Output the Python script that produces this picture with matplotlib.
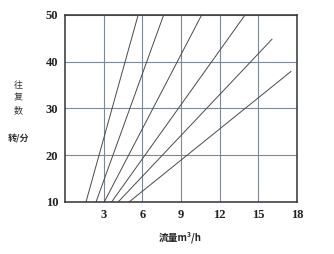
import matplotlib
matplotlib.use("Agg")
import matplotlib.pyplot as plt

plt.rcParams['font.family'] = ['Noto Sans CJK SC', 'DejaVu Sans']

# lines: (x at bottom, y at bottom, x at top, y at top)
x_start = [1.62, 2.40, 3.04, 3.61, 4.12, 4.97]
y_start = [10, 10, 10, 10, 10, 10]
x_end = [5.67, 7.65, 10.6, 13.97, 16.06, 17.53]
y_end = [50, 50, 50, 50, 44.8, 37.9]

x_ticks = [3, 6, 9, 12, 15, 18]
y_ticks = [10, 20, 30, 40, 50]

fig = plt.figure(figsize=(3.34, 2.54), dpi=100)
ax = fig.add_axes([0.195, 0.205, 0.694, 0.736])

for i in range(len(x_start)):
    ax.plot([x_start[i], x_end[i]], [y_start[i], y_end[i]], color='#4a4a4a', lw=0.7)

ax.set_xlim(0, 18)
ax.set_ylim(10, 50)
ax.set_xticks(x_ticks)
ax.set_yticks(y_ticks)
ax.grid(True, color='#7d8894', lw=0.8)
ax.set_axisbelow(True)
ax.tick_params(length=0, pad=5)
for lab in ax.get_xticklabels() + ax.get_yticklabels():
    lab.set_fontfamily('Liberation Serif')
    lab.set_fontweight('bold')
    lab.set_fontsize(9)
    lab.set_color('#222222')
for s in ax.spines.values():
    s.set_color('#333333')
    s.set_linewidth(1.1)

fig.text(0.054, 0.615, '往\n复\n数', ha='center', va='center', fontsize=6.5, linespacing=1.5, color='#333333')
fig.text(0.054, 0.455, '转/分', ha='center', va='center', fontsize=6.5, fontweight='bold', color='#333333')
fig.text(0.54, 0.067, '流量m³/h', ha='center', va='center', fontsize=7, fontweight='bold', color='#222222')

fig.savefig('out.png', dpi=100)
